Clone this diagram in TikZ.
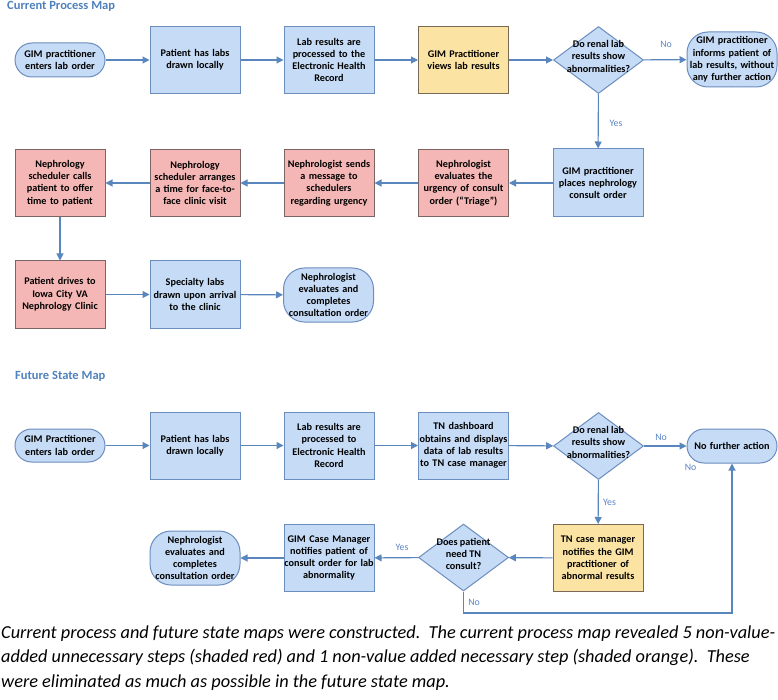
\documentclass[tikz,border=0pt]{standalone}
\usepackage{fontspec}
\setmainfont{Carlito}
\usetikzlibrary{shapes.geometric,arrows.meta}
\definecolor{bfill}{HTML}{C6DBF5}
\definecolor{bdraw}{HTML}{6C8EBF}
\definecolor{rfill}{HTML}{F4B7B5}
\definecolor{rdraw}{HTML}{7A6464}
\definecolor{ofill}{HTML}{FBE3A4}
\definecolor{odraw}{HTML}{7A6A55}
\definecolor{arr}{HTML}{5A86BE}
\definecolor{ttl}{HTML}{4F81BD}
\definecolor{lbl}{HTML}{5B84C4}
\hyphenpenalty=10000
\exhyphenpenalty=10000
\newcommand{\myNodeFont}{\bfseries\fontsize{10.2}{12.3}\selectfont}
\newcommand{\dtext}[1]{\smash{\makebox[0pt]{\begin{tabular}{@{}c@{}}#1\end{tabular}}}}
\tikzset{
  procbox/.style={rectangle, draw=bdraw, fill=bfill, line width=1pt, minimum width=90pt, minimum height=67pt, text width=90pt, inner sep=0pt, align=center, font=\myNodeFont},
  redbox/.style={procbox, draw=rdraw, fill=rfill},
  orbox/.style={procbox, draw=odraw, fill=ofill},
  term/.style={rectangle, draw=bdraw, fill=bfill, line width=1pt, minimum width=90pt, text width=90pt, inner sep=0pt, align=center, font=\myNodeFont},
  decis/.style={diamond, draw=bdraw, fill=bfill, line width=1pt, minimum width=90pt, minimum height=67pt, inner sep=0pt, font=\myNodeFont},
  flow/.style={draw=arr, line width=1.1pt, -{Triangle[length=7pt,width=7pt]}},
  lab/.style={text=lbl, font=\fontsize{9.8}{11}\selectfont, inner sep=0pt},
  title/.style={text=ttl, font=\bfseries\fontsize{12.5}{14}\selectfont, inner sep=0pt, anchor=base west},
  capt/.style={font=\itshape\fontsize{18.3}{20}\selectfont, inner sep=0pt, anchor=base west}
}
\begin{document}
\begin{tikzpicture}[x=1pt,y=-1pt]
\useasboundingbox (0,0) rectangle (778,700);
\fill[white] (0,0) rectangle (778,700);

\node[title] (t1title) at (7,9.5) {Current Process Map};

% Current row 1
\node[term, minimum height=34pt, rounded corners=17pt] (s1) at (60,60) {GIM practitioner\\enters lab order};
\node[procbox] (b2) at (195,60) {Patient has labs\\drawn locally};
\node[procbox] (b3) at (329,60) {Lab results are\\processed to the\\Electronic Health\\Record};
\node[orbox] (b4) at (463.5,60) {GIM Practitioner\\views lab results};
\node[decis] (d1) at (598.5,60) {\dtext{Do renal lab\\results show\\abnormalities?}};
\node[term, minimum height=55pt, rounded corners=21pt] (t1) at (732,59.5) {GIM practitioner\\informs patient of\\lab results, without\\any further action};

% Current row 2
\node[procbox, minimum height=68pt] (c1) at (598,183) {GIM practitioner\\places nephrology\\consult order};
\node[redbox] (c2) at (463.5,183) {Nephrologist\\evaluates the\\urgency of consult\\order (``Triage'')};
\node[redbox] (c3) at (329,183) {Nephrologist sends\\a message to\\schedulers\\regarding urgency};
\node[redbox] (c4) at (195,183) {Nephrology\\scheduler arranges\\a time for face-to-\\face clinic visit};
\node[redbox] (c5) at (60,183) {Nephrology\\scheduler calls\\patient to offer\\time to patient};

% Current row 3
\node[redbox] (r1) at (60,294.5) {Patient drives to\\Iowa City VA\\Nephrology Clinic};
\node[procbox] (r2) at (195,294.5) {Specialty labs\\drawn upon arrival\\to the clinic};
\node[term, minimum height=54pt, rounded corners=21pt] (r3) at (328.5,295) {Nephrologist\\evaluates and\\completes\\consultation order};

\draw[flow] (s1) -- (b2);
\draw[flow] (b2) -- (b3);
\draw[flow] (b3) -- (b4);
\draw[flow] (b4) -- (d1);
\draw[flow] (d1) -- (t1);
\draw[flow] (d1) -- (c1);
\draw[flow] (c1) -- (c2);
\draw[flow] (c2) -- (c3);
\draw[flow] (c3) -- (c4);
\draw[flow] (c4) -- (c5);
\draw[flow] (c5) -- (r1);
\draw[flow] (r1) -- (r2);
\draw[flow] (r2) -- (r3);

\node[lab] (lno1) at (666,44.5) {No};
\node[lab] (lyes1) at (616,123) {Yes};

% Future
\node[title] (t2title) at (15,379) {Future State Map};

\node[term, minimum height=33pt, rounded corners=16.5pt] (f1) at (60,445.5) {GIM Practitioner\\enters lab order};
\node[procbox] (f2) at (195,445.5) {Patient has labs\\drawn locally};
\node[procbox] (f3) at (329,445.5) {Lab results are\\processed to\\Electronic Health\\Record};
\node[procbox] (f4) at (463.5,445.5) {TN dashboard\\obtains and displays\\data of lab results\\to TN case manager};
\node[decis] (fd1) at (598.5,446) {\dtext{Do renal lab\\results show\\abnormalities?}};
\node[term, minimum height=34pt, rounded corners=17pt] (ft) at (732,446) {No further action};

\node[orbox] (fo) at (598,558) {TN case manager\\notifies the GIM\\practitioner of\\abnormal results};
\node[decis] (fd2) at (463.5,557.5) {\dtext{Does patient\\need TN\\consult?}};
\node[procbox] (fg) at (329,558) {GIM Case Manager\\notifies patient of\\consult order for lab\\abnormality};
\node[term, minimum height=54pt, rounded corners=21pt] (fn) at (195,558) {Nephrologist\\evaluates and\\completes\\consultation order};

\coordinate (fb1) at (463.5,613);
\coordinate (fb2) at (732,613);

\draw[flow] (f1) -- (f2);
\draw[flow] (f2) -- (f3);
\draw[flow] (f3) -- (f4);
\draw[flow] (f4) -- (fd1);
\draw[flow] (fd1) -- (ft);
\draw[flow] (fd1) -- (fo);
\draw[flow] (fo) -- (fd2);
\draw[flow] (fd2) -- (fg);
\draw[flow] (fg) -- (fn);
\draw[flow] (fd2.south) -- (fb1) -- (fb2) -- (ft.south);

\node[lab] (lno2) at (661,437) {No};
\node[lab] (lno3) at (690.5,467) {No};
\node[lab] (lyes2) at (609.5,502) {Yes};
\node[lab] (lyes3) at (402,547) {Yes};
\node[lab] (lno4) at (474,602) {No};

% Caption
\node[capt] (cap1) at (1,638) {Current process and future state maps were constructed.\ \ The current process map revealed 5 non-value-};
\node[capt] (cap2) at (1,662.5) {added unnecessary steps (shaded red) and 1 non-value added necessary step (shaded orange).\ \ These};
\node[capt] (cap3) at (1,687) {were eliminated as much as possible in the future state map.};
\end{tikzpicture}
\end{document}
